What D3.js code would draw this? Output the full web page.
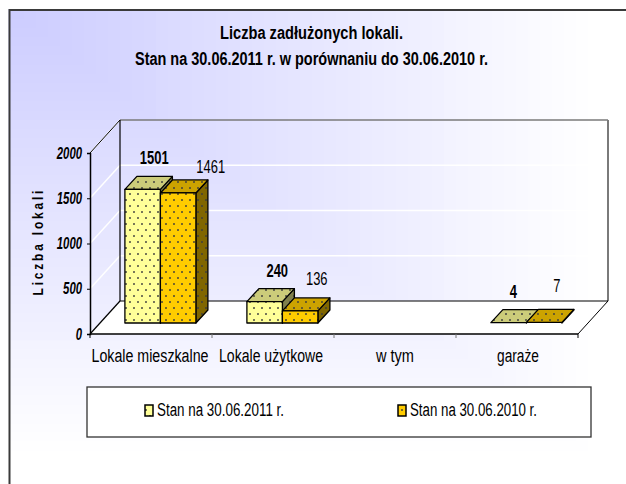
<!DOCTYPE html>
<html lang="pl"><head><meta charset="utf-8">
<style>html,body{margin:0;padding:0;background:#fff}svg{display:block}text{font-family:"Liberation Sans",Arial,sans-serif;fill:#000}</style>
<script src="https://cdn.jsdelivr.net/npm/d3@7/dist/d3.min.js"></script></head><body>
<div id="chart"></div>
<script>
const categories = ["Lokale mieszkalne", "Lokale użytkowe", "w tym", "garaże"];
const series2011 = [1501, 240, null, 4];
const series2010 = [1461, 136, null, 7];
const seriesNames = ["Stan na 30.06.2011 r.", "Stan na 30.06.2010 r."];
const yTicks = [0, 500, 1000, 1500, 2000];
const titleLines = ["Liczba zadłużonych lokali.", "Stan na 30.06.2011 r. w porównaniu do 30.06.2010 r."];
const yTitle = "Liczba lokali";

const W = 626, H = 484;
const svg = d3.select("#chart").append("svg").attr("width", W).attr("height", H);
const defs = svg.append("defs");

function dots(id, base) {
  const p = defs.append("pattern").attr("id", id).attr("patternUnits", "userSpaceOnUse")
    .attr("width", 8).attr("height", 12);
  p.append("rect").attr("width", 8).attr("height", 12).attr("fill", base);
  [[2, 2], [6, 8]].forEach(c => p.append("circle").attr("cx", c[0]).attr("cy", c[1]).attr("r", 0.95).attr("fill", "#3c3c3c"));
}
const faces = [
  {front: "#ffff99", top: "#cccc7a", side: "#80804d"},
  {front: "#ffcc00", top: "#cca300", side: "#806600"}
];
faces.forEach((f, i) => {
  dots("f" + i, f.front); dots("t" + i, f.top); dots("s" + i, f.side);
});

// corner gradient background: nested bands from the top-left corner
const bandCount = 50, gradW = 600, gradH = 460;
const bgColor = d3.interpolateRgb("#ccccff", "#ffffff");
svg.append("rect").attr("width", W).attr("height", H).attr("fill", "#ffffff");
svg.append("g").selectAll("rect").data(d3.range(bandCount, 0, -1)).join("rect")
  .attr("x", 0).attr("y", 0)
  .attr("width", d => gradW * d / bandCount).attr("height", d => gradH * d / bandCount)
  .attr("fill", d => bgColor((d - 1) / (bandCount - 1)));
// outer frame, cut by the page edges on the right and bottom
svg.append("rect").attr("width", W).attr("height", 9).attr("fill", "#fff");
svg.append("rect").attr("width", 8.5).attr("height", H).attr("fill", "#fff");
svg.append("path").attr("d", `M9.5,${H}V10H${W}`).attr("fill", "none").attr("stroke", "#3a3a3a").attr("stroke-width", 2);

// scales
const depth = {x: 30, y: -33};
const barDepth = {x: 12, y: -13};
const x = d3.scaleBand().domain(categories).range([90, 578]);
const y = d3.scaleLinear().domain([0, 2000]).range([334, 153]);
const yBar = d3.scaleLinear().domain([0, 2000]).range([323, 323 - 178]);
const barX = d3.scaleBand().domain([0, 1]).range([0, 71]);
const barShift = 9.4;

// walls
const x0 = x.range()[0], x1 = x.range()[1], yTop = y(2000), y0 = y(0);
const line = (g, a, b, c, w) => g.append("line").attr("x1", a[0]).attr("y1", a[1]).attr("x2", b[0]).attr("y2", b[1])
  .attr("stroke", c).attr("stroke-width", w);

const plot = svg.append("g");
plot.append("path").attr("fill", "#ffffff").attr("stroke", "none")
  .attr("d", d3.line()([[x0, y0], [x0 + depth.x, y0 + depth.y], [x1 + depth.x, y0 + depth.y], [x1, y0]]) + "Z");
yTicks.slice(1).forEach(t => {
  line(plot, [x0, y(t)], [x0 + depth.x, y(t) + depth.y], "#ffffff", 1.5);
  if (t < 2000) line(plot, [x0 + depth.x, y(t) + depth.y], [x1 + depth.x, y(t) + depth.y], "#ffffff", 1.5);
});
line(plot, [x0 + depth.x, yTop + depth.y], [x1 + depth.x, yTop + depth.y], "#7a7a7a", 1.5);
line(plot, [x1 + depth.x, yTop + depth.y], [x1 + depth.x, y0 + depth.y], "#7a7a7a", 2);
line(plot, [x0 + depth.x, yTop + depth.y], [x0 + depth.x, y0 + depth.y], "#000", 1.2);
line(plot, [x0 + depth.x, y0 + depth.y], [x1 + depth.x, y0 + depth.y], "#000", 1.2);
line(plot, [x0, yTop], [x0 + depth.x, yTop + depth.y], "#000", 1);
line(plot, [x0, y0], [x0 + depth.x, y0 + depth.y], "#000", 1.2);
line(plot, [x1, y0], [x1 + depth.x, y0 + depth.y], "#000", 1);

// axes
const axisY = d3.axisLeft(y).tickValues(yTicks).tickFormat(d3.format("d")).tickSize(3).tickPadding(5);
const gy = svg.append("g").attr("transform", `translate(${x0},0)`).call(axisY);
gy.select(".domain").attr("stroke", "#000").attr("stroke-width", 1.5);
gy.selectAll(".tick line").attr("stroke", "#000");
gy.selectAll(".tick text").attr("font-size", 16).attr("font-weight", "bold").attr("font-style", "italic")
  .attr("font-family", "Liberation Sans")
  .each(function (d) { d3.select(this).attr("textLength", String(d).length * 6.3).attr("lengthAdjust", "spacingAndGlyphs"); });

const axisX = d3.axisBottom(x).tickSize(0).tickPadding(0).tickFormat("");
const gx = svg.append("g").attr("transform", `translate(0,${y0})`).call(axisX);
gx.select(".domain").remove();
line(gx, [x0, 0], [x1, 0], "#000", 1.5);
const boundaries = categories.map(c => x(c)).concat([x1]);
gx.selectAll(".bound").data(boundaries).join("line").attr("class", "bound")
  .attr("x1", d => d).attr("x2", d => d).attr("y1", 0).attr("y2", 4)
  .attr("stroke", (d, i) => (i === 0 || i === 4) ? "#000" : "#777").attr("stroke-width", 1);

const catWidth = [117, 104, 38, 42];
const catShift = [-1, -2, 0, 1];
svg.append("g").selectAll("text").data(categories).join("text")
  .attr("x", (d, i) => x(d) + x.bandwidth() / 2 + catShift[i]).attr("y", 362).attr("text-anchor", "middle")
  .attr("font-size", 18).attr("textLength", (d, i) => catWidth[i]).attr("lengthAdjust", "spacingAndGlyphs")
  .attr("fill", "#111").text(d => d);

// bars
function drawBar(g, cat, s, v) {
  if (v === null) return;
  const X = x(cat) + x.bandwidth() / 2 + barShift - barX.range()[1] / 2 + barX(s);
  const w = barX.bandwidth(), b = yBar(0), t = yBar(v), dx = barDepth.x, dy = barDepth.y;
  const poly = (pts, fill) => g.append("path").attr("d", d3.line()(pts) + "Z").attr("fill", fill)
    .attr("stroke", "#000").attr("stroke-width", 1.3).attr("stroke-linejoin", "round");
  poly([[X + w, t], [X + w + dx, t + dy], [X + w + dx, b + dy], [X + w, b]], `url(#s${s})`);
  poly([[X, t], [X + dx, t + dy], [X + w + dx, t + dy], [X + w, t]], `url(#t${s})`);
  if (b - t > 1) poly([[X, t], [X + w, t], [X + w, b], [X, b]], `url(#f${s})`);
}
const bars = svg.append("g");
categories.forEach((c, i) => {
  drawBar(bars, c, 0, series2011[i]);
  drawBar(bars, c, 1, series2010[i]);
});

// data labels
const labelNudge = [
  [[-1, -12], [0, -12], null, [-8, -12]],
  [[20, -7], [4, -13], null, [0, -17]]
];
[series2011, series2010].forEach((vals, s) => {
  svg.append("g").selectAll("text").data(vals.map((v, i) => ({v, i})).filter(d => d.v !== null)).join("text")
    .attr("x", d => x(categories[d.i]) + x.bandwidth() / 2 + 10 - barX.range()[1] / 2 + barX(s) + barX.bandwidth() / 2 + barDepth.x + labelNudge[s][d.i][0])
    .attr("y", d => yBar(d.v) + barDepth.y + labelNudge[s][d.i][1])
    .attr("text-anchor", "middle").attr("font-size", 18).attr("font-weight", s === 0 ? "bold" : "normal")
    .attr("textLength", d => String(d.v).length * 7.2).attr("lengthAdjust", "spacingAndGlyphs")
    .attr("fill", s === 0 ? "#000" : "#222").text(d => d.v);
});

// title
const titleWidth = [183, 353], titleY = [39, 65];
svg.append("g").selectAll("text").data(titleLines).join("text")
  .attr("x", 311.5).attr("y", (d, i) => titleY[i]).attr("text-anchor", "middle")
  .attr("font-size", 17.5).attr("font-weight", "bold")
  .attr("textLength", (d, i) => titleWidth[i]).attr("lengthAdjust", "spacingAndGlyphs").text(d => d);

// y title
svg.append("text").attr("transform", "translate(43,243) rotate(-90) scale(0.8,1)").attr("text-anchor", "middle")
  .attr("font-size", 15).attr("font-weight", "bold").attr("textLength", 131).attr("lengthAdjust", "spacing").text(yTitle);

// legend
svg.append("rect").attr("x", 87).attr("y", 387).attr("width", 504).attr("height", 50)
  .attr("fill", "#fff").attr("stroke", "#333").attr("stroke-width", 1.3);
const legendX = [145, 398];
seriesNames.forEach((n, i) => {
  svg.append("rect").attr("x", legendX[i]).attr("y", 405).attr("width", 8).attr("height", 11)
    .attr("fill", `url(#f${i})`).attr("stroke", "#000").attr("stroke-width", 1.5);
  svg.append("text").attr("x", legendX[i] + 12).attr("y", 416).attr("font-size", 18)
    .attr("textLength", 127).attr("lengthAdjust", "spacingAndGlyphs").attr("fill", "#111").text(n);
});
</script></body></html>
